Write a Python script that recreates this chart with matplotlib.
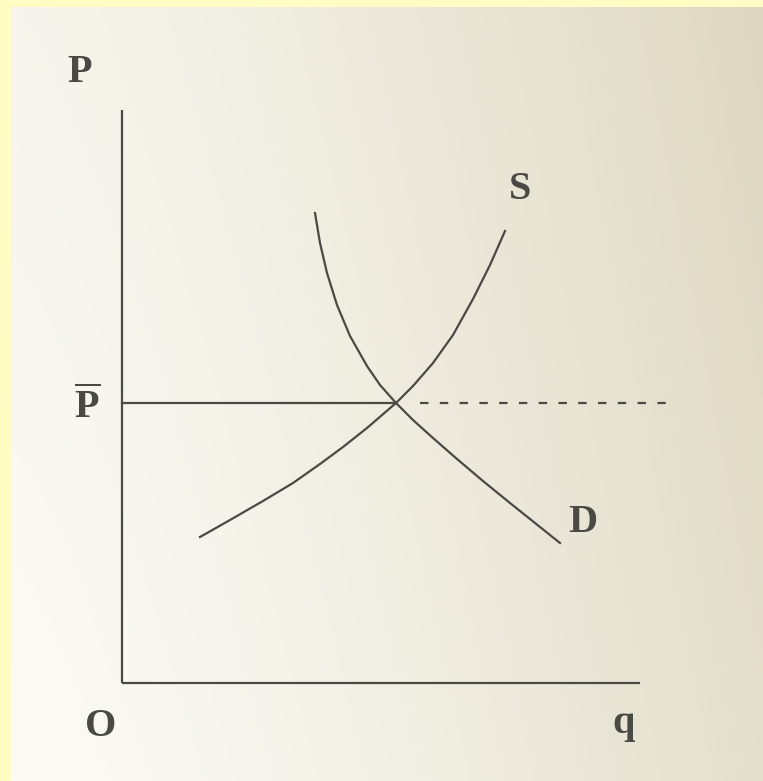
import numpy as np
import matplotlib
matplotlib.use("Agg")
import matplotlib.pyplot as plt

# curves (q, P), origin at the axes corner
demand_q = [19.3, 19.8, 20.5, 21.5, 22.8, 24.5, 25.8, 27.4, 29.1, 31.1, 33.5, 36.1, 38.8, 41.3, 43.8]
demand_p = [47.0, 44.0, 41.0, 37.8, 34.7, 31.7, 29.8, 28.0, 26.3, 24.5, 22.4, 20.2, 18.0, 16.0, 14.0]
supply_q = [7.8, 10.8, 14.1, 17.1, 19.8, 22.1, 24.5, 27.4, 29.1, 31.1, 33.1, 35.1, 36.8, 38.3]
supply_p = [14.6, 16.3, 18.2, 20.0, 21.9, 23.6, 25.5, 28.0, 29.7, 32.0, 34.8, 38.4, 41.8, 45.2]

p_bar = 28.0        # equilibrium price
q_eq = 27.4         # equilibrium quantity
dash_from, dash_to = 29.8, 55.5
q_axis_end = 51.8
p_axis_top = 57.3

ink = "#4a4944"
plt.rcParams["mathtext.fontset"] = "custom"
plt.rcParams["mathtext.rm"] = "Liberation Serif:bold"

fig = plt.figure(figsize=(7.63, 7.81), dpi=100)
fig.patch.set_facecolor("#fffcc4")

# paper background (scanned page, lighter on the left)
bg = fig.add_axes([11 / 763, 0, 1 - 11 / 763, 1 - 7 / 781])
bg.axis("off")
gx = np.linspace(0, 1, 200)
gy = np.linspace(0, 1, 200)
X, Y = np.meshgrid(gx, gy)
t = np.clip(0.8 * X ** 1.3 + 0.2 * (1 - Y), 0, 1)[..., None]
left = np.array([252, 251, 246]) / 255
right = np.array([222, 216, 194]) / 255
bg.imshow(left * (1 - t) + right * t, aspect="auto", extent=[0, 1, 0, 1])

ax = fig.add_axes([0, 0, 1, 1])
ax.set_xlim(-12.2, 64.1)
ax.set_ylim(-9.8, 68.3)
ax.axis("off")
ax.patch.set_alpha(0)

lw = 1.6
# axes
ax.plot([0, 0], [0, p_axis_top], color=ink, lw=lw, solid_capstyle="butt")
ax.plot([0, q_axis_end], [0, 0], color=ink, lw=lw, solid_capstyle="butt")

# curves
ax.plot(demand_q, demand_p, color=ink, lw=lw, solid_joinstyle="round")
ax.plot(supply_q, supply_p, color=ink, lw=lw, solid_joinstyle="round")

# price line
ax.plot([0, q_eq], [p_bar, p_bar], color=ink, lw=lw)
ax.plot([dash_from, dash_to], [p_bar, p_bar], color=ink, lw=lw,
        dashes=(3.8, 5.1), clip_on=False)

fs = 29
tk = dict(color=ink, fontsize=fs, family="Liberation Serif", weight="bold",
          ha="center", va="center")
ax.text(-4.2, 61.0, "P", **tk)
ax.text(-3.5, 27.6, r"$\overline{\mathrm{P}}$", color=ink, fontsize=fs, ha="center", va="center")
ax.text(-2.1, -4.4, "O", **tk)
ax.text(50.2, -4.0, "q", **tk)
ax.text(39.8, 49.3, "S", **tk)
ax.text(46.1, 16.1, "D", **tk)

fig.savefig("out.png", dpi=100)
